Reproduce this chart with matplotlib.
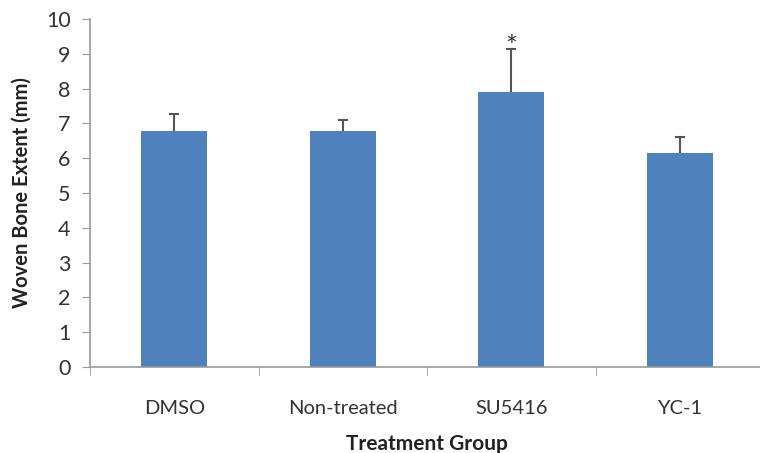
import matplotlib.pyplot as plt
import numpy as np

groups = ['DMSO', 'Non-treated', 'SU5416', 'YC-1']
extent = [6.77, 6.77, 7.89, 6.16]
err_up = [0.49, 0.33, 1.25, 0.46]
marks = ['', '', '*', '']

plt.rcParams['font.family'] = ['Lato', 'DejaVu Sans']

fig = plt.figure(figsize=(7.6, 4.53), dpi=100)
ax = fig.add_axes([90 / 760, 86 / 453, 674 / 760, 348 / 453])

x = np.arange(len(groups))
top = np.array(extent) + np.array(err_up)
ax.bar(x, extent, width=0.39, color='#4F81BD', zorder=2)
# upper error bars only, like Excel "plus" style
ax.vlines(x, extent, top, color='#555555', linewidth=1.5, zorder=3)
ax.hlines(top, x - 0.03, x + 0.03, color='#555555', linewidth=1.5, zorder=3)
for xi, t, m in zip(x, top, marks):
    if m:
        ax.text(xi, t - 0.36, m, ha='center', va='bottom', fontsize=20, color='#333333')

ax.set_xlim(-0.5, len(groups) - 0.5)
ax.set_ylim(0, 10)
ax.set_yticks(range(0, 11))
ax.set_xticks(x)
ax.set_xticklabels(groups, fontsize=14.5, color='#333333')
ax.set_xticks(np.arange(-0.5, len(groups), 1), minor=True)
ax.tick_params(axis='x', which='major', length=0, pad=24)
ax.tick_params(axis='x', which='minor', length=6, color='#999999', direction='out')
ax.tick_params(axis='y', length=6, colors='#999999', labelsize=15.5, labelcolor='#333333', pad=8)

for s in ['top', 'right']:
    ax.spines[s].set_visible(False)
for s in ['left', 'bottom']:
    ax.spines[s].set_color('#999999')
    ax.spines[s].set_linewidth(1.2)

ax.set_ylabel('Woven Bone Extent (mm)', fontsize=14.5, fontweight='bold', labelpad=10, color='#222222')
ax.set_xlabel('Treatment Group', fontsize=15, fontweight='bold', labelpad=12, color='#222222')

fig.savefig('out.png', dpi=100)
